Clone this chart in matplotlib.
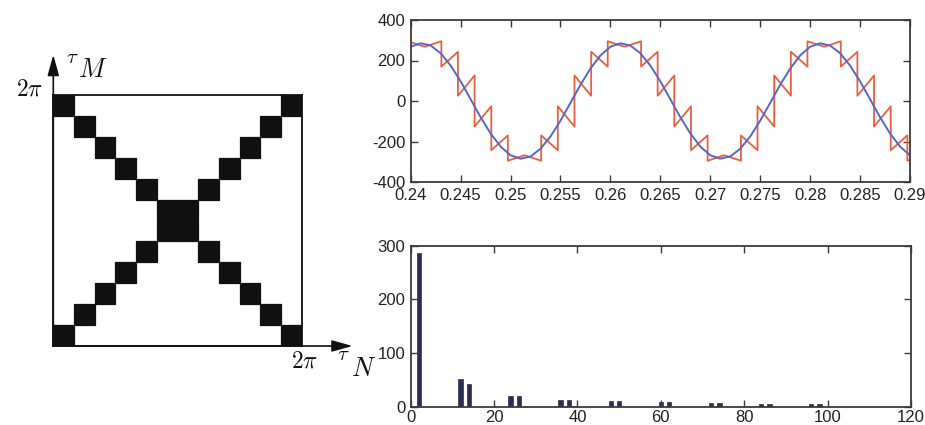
import matplotlib
matplotlib.use('Agg')
import matplotlib.pyplot as plt
import numpy as np
from matplotlib.patches import ArrowStyle

plt.rcParams['font.family'] = ['Liberation Sans', 'DejaVu Sans']
plt.rcParams['mathtext.fontset'] = 'cm'
plt.rcParams['axes.unicode_minus'] = False

# ---------------- data ----------------
# left panel: 12 x 12 grid, black cells (row, col)
grid_n = 12
cell_rows = [0, 0, 1, 1, 2, 2, 3, 3, 4, 4, 5, 5, 6, 6, 7, 7, 8, 8, 9, 9, 10, 10, 11, 11]
cell_cols = [0, 11, 1, 10, 2, 9, 3, 8, 4, 7, 5, 6, 6, 5, 7, 4, 8, 3, 9, 2, 10, 1, 11, 0]

# top right: smooth signal (blue), sampled every 1 ms from 0.24 to 0.29
blue_t = np.linspace(0.24, 0.29, 51)
blue_v = [268, 285, 274, 236, 175, 97, 9, -80, -160, -225,
          -268, -285, -274, -236, -175, -97, -9, 80, 160, 225,
          268, 285, 274, 236, 175, 97, 9, -80, -160, -225,
          -268, -285, -274, -236, -175, -97, -9, 80, 160, 225,
          268, 285, 274, 236, 175, 97, 9, -80, -160, -225, -268]

# top right: stepped signal (red) - segment boundaries and start/end value per segment
red_jump_t = [0.23973, 0.24140, 0.24307, 0.24473, 0.24640, 0.24807, 0.24973, 0.25140,
              0.25307, 0.25473, 0.25640, 0.25807, 0.25973, 0.26140, 0.26307, 0.26473,
              0.26640, 0.26807, 0.26973, 0.27140, 0.27307, 0.27473, 0.27640, 0.27807,
              0.27973, 0.28140, 0.28307, 0.28473, 0.28640, 0.28807, 0.28973, 0.29140]
red_seg_start = [295,
                 268, 170, 26, -126, -243, -295, -268, -170, -26, 126, 243, 295,
                 268, 170, 26, -126, -243, -295, -268, -170, -26, 126, 243, 295,
                 268, 170, 26, -126, -243, -295]
red_seg_end = [268,
               295, 243, 126, -26, -170, -268, -295, -243, -126, 26, 170, 268,
               295, 243, 126, -26, -170, -268, -295, -243, -126, 26, 170, 268,
               295, 243, 126, -26, -170, -268]

top_xticks = [0.24, 0.245, 0.25, 0.255, 0.26, 0.265, 0.27, 0.275, 0.28, 0.285, 0.29]
top_xlabels = ['0.24', '0.245', '0.25', '0.255', '0.26', '0.265', '0.27', '0.275',
               '0.28', '0.285', '0.29']
top_yticks = [-400, -200, 0, 200, 400]

# bottom right: spectrum bars
bar_x = [2, 12, 14, 24, 26, 36, 38, 48, 50, 60, 62, 72, 74, 84, 86, 96, 98]
bar_v = [287, 51, 42, 20, 20, 13, 13, 11, 11, 9, 9, 6, 6, 5, 5, 5, 5]
bot_xticks = [0, 20, 40, 60, 80, 100, 120]
bot_yticks = [0, 100, 200, 300]

# ---------------- figure ----------------
W, H = 925, 425
fig = plt.figure(figsize=(W / 100, H / 100), dpi=100)
fig.patch.set_facecolor('white')


def px_axes(x0, y0, x1, y1):
    return fig.add_axes([x0 / W, 1 - y1 / H, (x1 - x0) / W, (y1 - y0) / H])


# ----- left panel -----
ax0 = px_axes(53.3, 95, 301.7, 346)
ax0.bar(cell_cols, [1] * len(cell_cols), bottom=cell_rows, width=1.0, align='edge',
        color='#111111', edgecolor='#111111', linewidth=0.9)
ax0.set_xlim(0, grid_n)
ax0.set_ylim(grid_n, 0)
ax0.set_xticks([])
ax0.set_yticks([])
for s in ax0.spines.values():
    s.set_linewidth(1.3)
    s.set_color('#111111')

astyle = ArrowStyle('-|>', head_length=0.9, head_width=0.25)
ax0.annotate('', xy=(0, 1.16), xytext=(0, 0), xycoords='axes fraction',
             arrowprops=dict(arrowstyle=astyle, lw=1.2, color='#111111',
                             shrinkA=0, shrinkB=0, mutation_scale=14))
ax0.annotate('', xy=(1.205, 0), xytext=(0, 0), xycoords='axes fraction',
             arrowprops=dict(arrowstyle=astyle, lw=1.2, color='#111111',
                             shrinkA=0, shrinkB=0, mutation_scale=14))

ax0.text(-0.04, 1.0, r'$2\pi$', transform=ax0.transAxes, ha='right', va='baseline',
         fontsize=17, color='#111111')
ax0.text(1.01, -0.086, r'$2\pi$', transform=ax0.transAxes, ha='center', va='baseline',
         fontsize=17, color='#111111')
ax0.text(0.05, 1.128, r'$\tau$', transform=ax0.transAxes, ha='left', va='baseline',
         fontsize=15, color='#111111')
ax0.text(0.1, 1.072, r'$M$', transform=ax0.transAxes, ha='left', va='baseline',
         fontsize=19, color='#111111')
ax0.text(1.143, -0.056, r'$\tau$', transform=ax0.transAxes, ha='left', va='baseline',
         fontsize=15, color='#111111')
ax0.text(1.2, -0.118, r'$N$', transform=ax0.transAxes, ha='left', va='baseline',
         fontsize=19, color='#111111')


def style_axes(ax):
    for s in ax.spines.values():
        s.set_linewidth(1.3)
        s.set_color('#3a3a3a')
    ax.tick_params(direction='in', top=True, right=True, length=5, width=1.0,
                   color='#3a3a3a', labelsize=12, labelcolor='#222222', pad=4)


# ----- top right -----
ax1 = px_axes(410.7, 20, 910, 182)
red_x, red_y = [], []
for k in range(len(red_seg_start)):
    red_x += [red_jump_t[k], red_jump_t[k + 1]]
    red_y += [red_seg_start[k], red_seg_end[k]]
ax1.plot(red_x, red_y, color='#E8603F', lw=1.3)
ax1.plot(blue_t, blue_v, color='#5566C8', lw=1.4)
ax1.set_xlim(0.24, 0.29)
ax1.set_ylim(-400, 400)
ax1.set_xticks(top_xticks)
ax1.set_xticklabels(top_xlabels)
ax1.set_yticks(top_yticks)
style_axes(ax1)

# ----- bottom right -----
ax2 = px_axes(410.7, 245.7, 911, 406.7)
ax2.bar(bar_x, bar_v, width=1.1, color='#2B2D52', edgecolor='#2B2D52', linewidth=0.5)
ax2.set_xlim(0, 120)
ax2.set_ylim(0, 300)
ax2.set_xticks(bot_xticks)
ax2.set_yticks(bot_yticks)
style_axes(ax2)
ax2.tick_params(axis='x', pad=2.5)

fig.savefig('out.png', dpi=100, facecolor='white')
